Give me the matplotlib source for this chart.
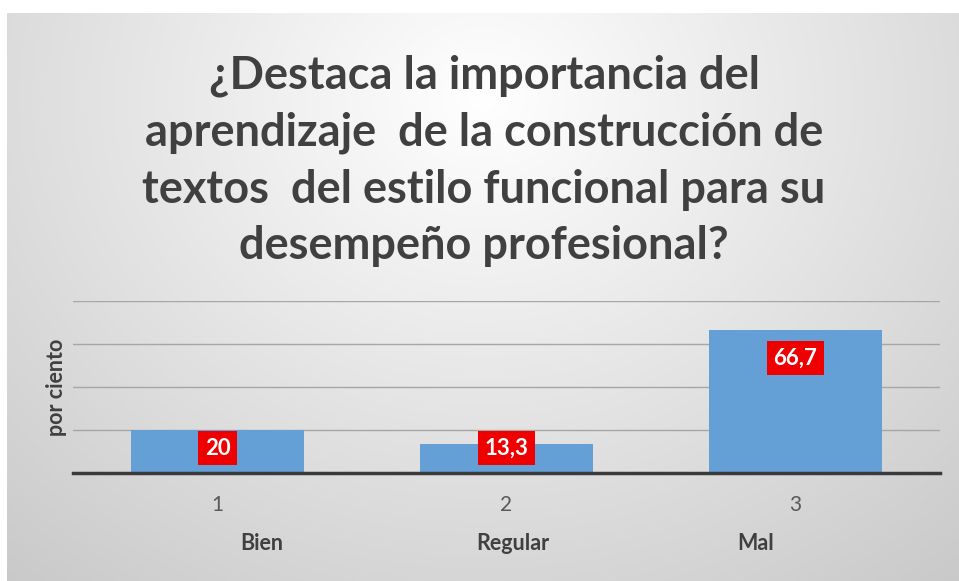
import numpy as np
import matplotlib
matplotlib.use("Agg")
import matplotlib.pyplot as plt

categories = ["Bien", "Regular", "Mal"]
tick_labels = ["1", "2", "3"]
values = [20, 13.3, 66.7]
value_labels = ["20", "13,3", "66,7"]
title = ("¿Destaca la importancia del\naprendizaje  de la construcción de\n"
         "textos  del estilo funcional para su\ndesempeño profesional?")
ylabel = "por ciento"

W, H = 959, 581
fig = plt.figure(figsize=(W / 100, H / 100), dpi=100)
fig.patch.set_facecolor("white")

# gradient background
bg = fig.add_axes([7 / W, 0, 1 - 7 / W, 1 - 13 / H])
bg.set_axis_off()
yy, xx = np.mgrid[0:1:300j, 0:1:500j]
d = np.sqrt(((xx - 0.5) * 1.3) ** 2 + ((yy - 0.15) * 0.9) ** 2)
g = np.clip(1.0 - 0.21 * d, 0.78, 1.0)
img = np.dstack([g, g, g])
bg.imshow(img, aspect="auto", extent=[0, 1, 1, 0])
bg.set_xlim(0, 1)
bg.set_ylim(1, 0)

fig.text(484 / W, 1 - 161 / H, title, ha="center", va="center", fontsize=32.5,
         fontweight="bold", family="Lato", color="#404040", linespacing=1.43)

ax = fig.add_axes([73 / W, 108 / H, (940 - 73) / W, 172 / H])
ax.patch.set_alpha(0)
x = np.arange(len(values))
ax.bar(x, values, width=0.6, color="#649fd6", zorder=2)
ax.set_xlim(-0.5, 2.5)
ax.set_ylim(0, 80)
ax.set_yticks([20, 40, 60, 80])
ax.yaxis.grid(True, color="#a6a6a6", lw=1)
ax.set_axisbelow(True)
ax.tick_params(axis="y", length=0, labelleft=False)
ax.tick_params(axis="x", length=0, pad=16, labelsize=15, labelcolor="#595959")
ax.set_xticks(x)
ax.set_xticklabels(tick_labels, family="Lato")
for s in ["left", "right", "top"]:
    ax.spines[s].set_visible(False)
ax.spines["bottom"].set_color("#3a3a3a")
ax.spines["bottom"].set_linewidth(2.5)
ax.spines["bottom"].set_zorder(3)
ax.set_ylabel(ylabel, fontsize=15.5, fontweight="bold", color="#404040",
              family="Lato", labelpad=4)

for xi, v, lab in zip(x, values, value_labels):
    ly = max(v - 13.2, 11.6)
    ax.text(xi, ly, lab, ha="center", va="center", fontsize=16,
            fontweight="bold", color="white", family="Lato", zorder=4,
            bbox=dict(boxstyle="square,pad=0.3", fc="#ee0000", ec="none"))

# category labels below tick labels
cat_offsets = [0.153, 0.023, -0.139]
for xi, c, off in zip(x, categories, cat_offsets):
    ax.text(xi + off, -33, c, ha="center", va="center", fontsize=15.5,
            fontweight="bold", color="#404040", family="Lato")

fig.savefig("out.png", dpi=100)
